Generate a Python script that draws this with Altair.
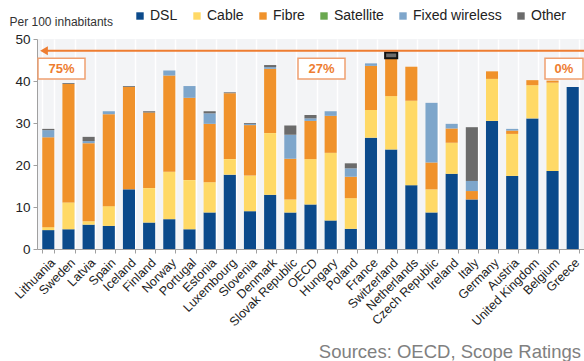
import altair as alt
import pandas as pd

countries = ["Lithuania", "Sweden", "Latvia", "Spain", "Iceland", "Finland", "Norway",
             "Portugal", "Estonia", "Luxembourg", "Slovenia", "Denmark", "Slovak Republic",
             "OECD", "Hungary", "Poland", "France", "Switzerland", "Netherlands",
             "Czech Republic", "Ireland", "Italy", "Germany", "Austria", "United Kingdom",
             "Belgium", "Greece"]

series = ["DSL", "Cable", "Fibre", "Satellite", "Fixed wireless", "Other"]
colors = ["#0b4a8b", "#ffd966", "#f0922b", "#6aa84f", "#7ea6cb", "#6b6b6b"]

dsl = [4.5, 4.7, 5.8, 5.5, 14.2, 6.3, 7.1, 4.7, 8.7, 17.7, 9.0, 12.9, 8.7,
       10.6, 6.8, 4.8, 26.5, 23.7, 15.2, 8.7, 17.9, 11.8, 30.5, 17.4, 31.1, 18.6, 38.6]
cable = [0.7, 6.4, 0.8, 4.7, 0.0, 8.2, 11.3, 11.7, 7.2, 3.7, 8.5, 14.7, 3.1,
         10.8, 16.1, 7.3, 6.6, 12.7, 20.1, 5.5, 7.4, 0.0, 10.0, 10.0, 7.9, 21.0, 0.0]
fibre = [21.4, 28.2, 18.6, 21.9, 24.4, 18.0, 22.9, 19.6, 13.9, 15.7, 12.0, 15.3, 9.7,
         9.1, 8.8, 5.1, 10.5, 9.0, 8.1, 6.4, 3.4, 2.0, 1.8, 0.8, 1.2, 0.5, 0.0]
satellite = [0.0] * 27
fixed_wireless = [1.7, 0.0, 0.5, 0.7, 0.0, 0.0, 1.2, 2.8, 2.5, 0.0, 0.3, 0.4, 5.7,
                  0.6, 1.1, 2.0, 0.6, 0.0, 0.0, 14.2, 1.1, 2.4, 0.0, 0.4, 0.0, 0.0, 0.0]
other = [0.3, 0.2, 1.0, 0.0, 0.2, 0.3, 0.0, 0.0, 0.5, 0.2, 0.2, 0.5, 2.2,
         0.8, 0.0, 1.2, 0.0, 1.4, 0.0, 0.0, 0.0, 12.8, 0.0, 0.0, 0.0, 0.0, 0.0]

target_level = 47.2
shares = ["75%", "27%", "0%"]

rows = []
for s_idx, (name, vals) in enumerate(zip(series, [dsl, cable, fibre, satellite, fixed_wireless, other])):
    for c, v in zip(countries, vals):
        rows.append({"country": c, "series": name, "value": v, "rank": s_idx})
df = pd.DataFrame(rows)

orange = "#ee7d31"
font = "Liberation Sans"

# the Swiss "Other" segment is drawn with a dark outline
highlight = (alt.datum.country == "Switzerland") & (alt.datum.series == "Other")

bars = alt.Chart(df).mark_bar().encode(
    x=alt.X("country:N", sort=countries,
            scale=alt.Scale(paddingInner=0.4, paddingOuter=0.26),
            axis=alt.Axis(title=None, labelAngle=-45, labelFontSize=12.5, labelColor="#222",
                          labelFont=font, grid=True, gridColor="#ffffff", gridWidth=1.5,
                          tickBand="extent", domainColor="#a0a0a0", tickColor="#a0a0a0",
                          tickSize=4, labelPadding=3)),
    y=alt.Y("value:Q", stack="zero",
            scale=alt.Scale(domain=[0, 50], nice=False),
            axis=alt.Axis(values=list(range(0, 51, 5)), grid=False, labelFontSize=13.5,
                          labelColor="#222", labelFont=font, domainColor="#a0a0a0",
                          tickColor="#a0a0a0", tickSize=4, labelPadding=3,
                          title="Per 100 inhabitants", titleAngle=0, titleAlign="left",
                          titleBaseline="middle", titleX=-28, titleY=-18, titleFontSize=12,
                          titleFontWeight="normal", titleFont=font, titleColor="#333")),
    color=alt.Color("series:N", sort=series,
                    scale=alt.Scale(domain=series, range=colors),
                    legend=alt.Legend(title=None, orient="none", legendX=96, legendY=-30,
                                      direction="horizontal", symbolType="square",
                                      symbolSize=55, symbolStrokeWidth=0,
                                      labelFontSize=14, labelFont=font, labelColor="#222",
                                      labelOffset=3, columnPadding=12)),
    stroke=alt.condition(highlight, alt.value("#111111"), alt.value("transparent")),
    strokeWidth=alt.condition(highlight, alt.value(2), alt.value(0)),
    order=alt.Order("rank:Q"),
)

arrow_line = alt.Chart().mark_rule(color=orange, strokeWidth=2).encode(
    x=alt.value(8), x2=alt.value(547), y=alt.datum(target_level))
arrow_head = alt.Chart().mark_point(shape="triangle-left", filled=True, color=orange,
                                    opacity=1, size=80).encode(
    x=alt.value(7), y=alt.datum(target_level))

def share_box(label, x0, x1):
    box = alt.Chart().mark_rect(fill="white", stroke="#f0a070", strokeWidth=1.5).encode(
        x=alt.value(x0), x2=alt.value(x1), y=alt.datum(45.4), y2=alt.datum(40.5))
    txt = alt.Chart().mark_text(color=orange, fontSize=13, fontWeight="bold", font=font).encode(
        x=alt.value((x0 + x1) / 2), y=alt.datum(42.95), text=alt.datum(label))
    return box + txt

boxes = (share_box(shares[0], 1, 48) + share_box(shares[1], 261, 308)
         + share_box(shares[2], 508, 546))

source = alt.Chart().mark_text(align="right", baseline="middle", color="#808080",
                               fontSize=18.5, font=font).encode(
    x=alt.value(544), y=alt.value(313), text=alt.datum("Sources: OECD, Scope Ratings"))

chart = alt.layer(bars, arrow_line, arrow_head, boxes, source).properties(
    width=547, height=210,
    autosize=alt.AutoSizeParams(type="none"),
    padding={"left": 37, "top": 39, "right": 0, "bottom": 112},
).configure_view(fill="#f3f4f6", strokeWidth=0)

chart.save("out.html", embed_options={"renderer": "svg", "actions": False})
